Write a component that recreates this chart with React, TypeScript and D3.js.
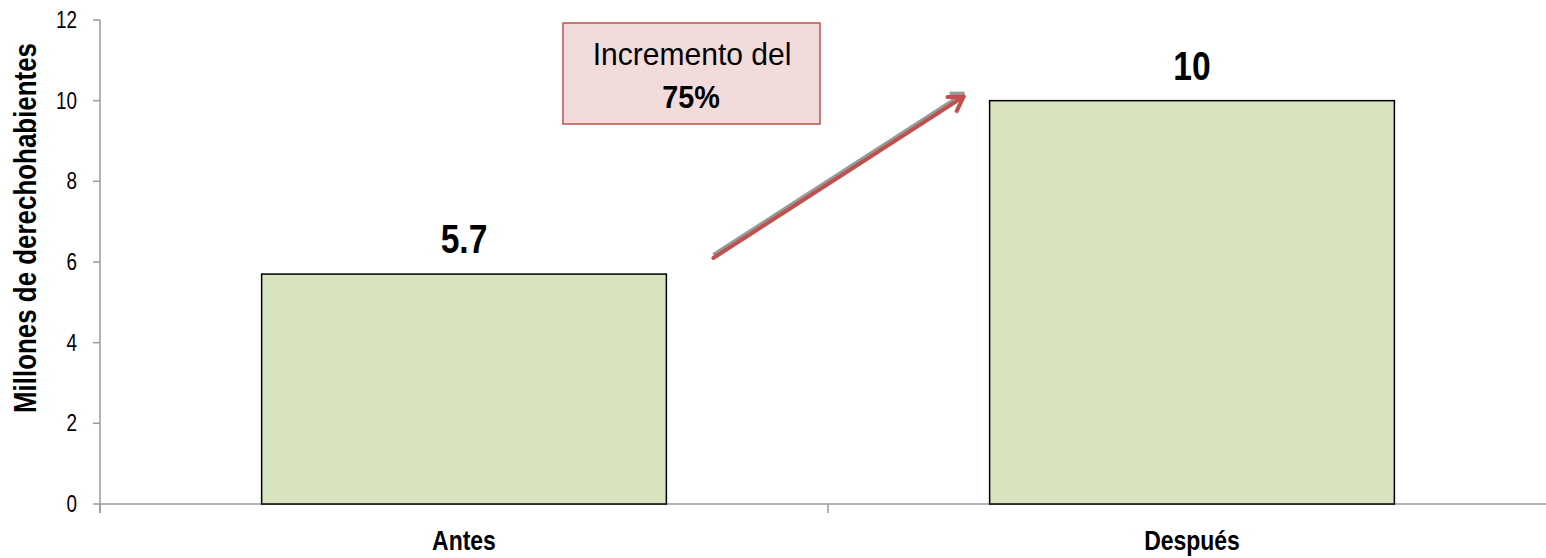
import React from "react";
import * as d3 from "d3";

const categories: string[] = ["Antes", "Después"];
const values: number[] = [5.7, 10];
const valueLabels: string[] = ["5.7", "10"];
const yTicks: number[] = [0, 2, 4, 6, 8, 10, 12];
const yTitle = "Millones de derechohabientes";
const noteLine1 = "Incremento del";
const noteLine2 = "75%";

const W = 1546;
const H = 558;
const FONT = "'Liberation Sans', Arial, sans-serif";
const NARROW = 0.82;

type TProps = { x: number; y: number; size: number; bold?: boolean; anchor?: string; sx?: number; rot?: number; dy?: string; children: React.ReactNode };
const T = ({ x, y, size, bold, anchor = "middle", sx = NARROW, rot = 0, dy, children }: TProps) => (
  <g transform={`translate(${x},${y}) rotate(${rot}) scale(${sx},1)`}>
    <text x={0} y={0} dy={dy} textAnchor={anchor} fontSize={size} fontWeight={bold ? "bold" : "normal"} fill="#000">{children}</text>
  </g>
);

export default function App() {
  const x = d3.scaleBand<string>().domain(categories).range([100, 1556]).paddingInner(0.444).paddingOuter(0.222);
  const y = d3.scaleLinear().domain([0, 12]).range([504, 20]);
  const step = x.step();
  const bw = x.bandwidth();
  const x0 = 100;

  const a1x = (x(categories[0]) as number) + bw + 47;
  const a1y = y(6.1);
  const a2x = (x(categories[1]) as number) - 26;
  const a2y = y(10.1);
  const ang = Math.atan2(a2y - a1y, a2x - a1x);
  const hl = 16;
  const head = () => {
    const p1 = [a2x - hl * Math.cos(ang - 0.55), a2y - hl * Math.sin(ang - 0.55)];
    const p2 = [a2x - hl * Math.cos(ang + 0.55), a2y - hl * Math.sin(ang + 0.55)];
    return `M${p1[0]},${p1[1]} L${a2x},${a2y} L${p2[0]},${p2[1]}`;
  };

  return (
    <svg width={W} height={H} style={{ position: "absolute", left: 0, top: 0, background: "#fff" }} fontFamily={FONT}>
      {/* y axis */}
      <line x1={x0} x2={x0} y1={y(12)} y2={y(0) + 9} stroke="#999" strokeWidth={1.5} />
      {yTicks.map((t) => (
        <g key={t}>
          <line x1={x0 - 7} x2={x0} y1={y(t)} y2={y(t)} stroke="#999" strokeWidth={1.5} />
          <T x={77} y={y(t)} dy="0.35em" size={23} anchor="end">{t}</T>
        </g>
      ))}
      {/* x axis */}
      <line x1={x0} x2={W} y1={y(0)} y2={y(0)} stroke="#999" strokeWidth={1.5} />
      {categories.map((c, i) => (
        <line key={c} x1={x0 + i * step} x2={x0 + i * step} y1={y(0)} y2={y(0) + 9} stroke="#999" strokeWidth={1.5} />
      ))}
      {/* bars */}
      {categories.map((c, i) => (
        <g key={c}>
          <rect x={x(c)} y={y(values[i])} width={bw} height={y(0) - y(values[i])} fill="#d7e4bd" stroke="#000" strokeWidth={1.5} />
          <T x={(x(c) as number) + bw / 2} y={y(values[i]) - 21} size={41} bold>{valueLabels[i]}</T>
          <T x={(x(c) as number) + bw / 2} y={550} size={28} bold>{c}</T>
        </g>
      ))}
      {/* y title */}
      <T x={36} y={228} size={32} bold rot={-90} sx={0.81}>{yTitle}</T>
      {/* annotation box */}
      <rect x={563} y={23} width={257} height={101} fill="#f2dcdb" stroke="#c0504d" strokeWidth={1.5} />
      <T x={692} y={65} size={31} sx={0.97}>{noteLine1}</T>
      <T x={691} y={108} size={32} bold sx={0.9}>{noteLine2}</T>
      {/* arrow shadow */}
      <line x1={a1x} y1={a1y - 3} x2={a2x} y2={a2y - 3} stroke="#999" strokeWidth={4} />
      <path d={`M${a2x - 14},${a2y - 3} L${a2x + 1},${a2y - 3}`} stroke="#999" strokeWidth={4} fill="none" />
      {/* arrow */}
      <line x1={a1x} y1={a1y} x2={a2x} y2={a2y} stroke="#c0504d" strokeWidth={4} strokeLinecap="round" />
      <path d={head()} stroke="#c0504d" strokeWidth={4} fill="none" strokeLinecap="round" strokeLinejoin="round" />
    </svg>
  );
}
